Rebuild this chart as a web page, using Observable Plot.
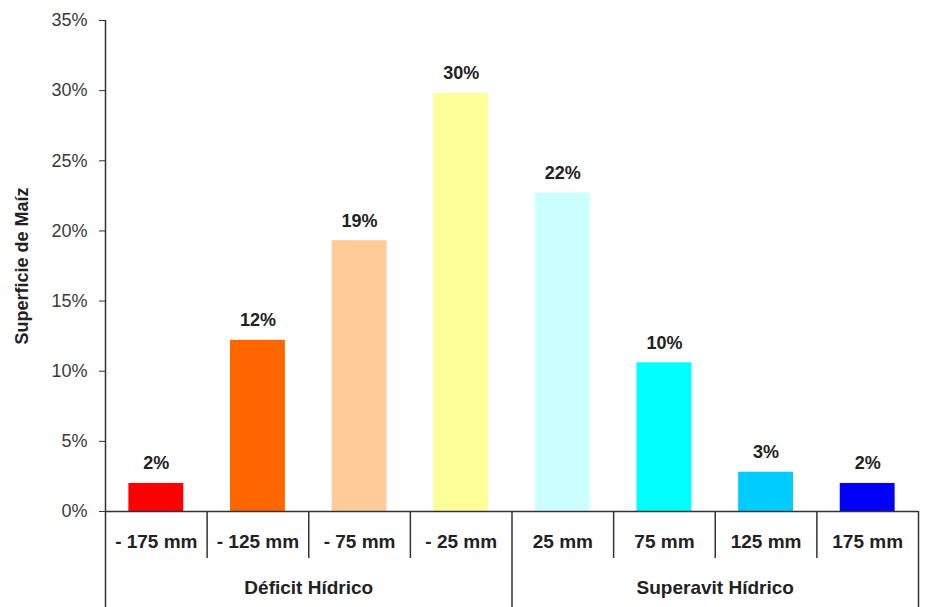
<!DOCTYPE html>
<html><head><meta charset="utf-8">
<script src="https://cdn.jsdelivr.net/npm/d3@7"></script>
<script src="https://cdn.jsdelivr.net/npm/@observablehq/plot@0.6"></script>
<style>body{margin:0;background:#fff} svg{display:block}</style>
</head><body><div id="chart"></div>
<script>
const categories = ["- 175 mm","- 125 mm","- 75 mm","- 25 mm","25 mm","75 mm","125 mm","175 mm"];
const values = [2.0, 12.2, 19.3, 29.8, 22.7, 10.6, 2.8, 2.0];
const valueLabels = ["2%","12%","19%","30%","22%","10%","3%","2%"];
const groupOf = ["Déficit Hídrico","Déficit Hídrico","Déficit Hídrico","Déficit Hídrico","Superavit Hídrico","Superavit Hídrico","Superavit Hídrico","Superavit Hídrico"];
const groups = ["Déficit Hídrico","Superavit Hídrico"];
const colors = ["#ff0000","#ff6600","#ffcc99","#ffff99","#ccffff","#00ffff","#00ccff","#0000ff"];
const yTicks = [0,5,10,15,20,25,30,35];
const yTitle = "Superficie de Maíz";

const W = 929, H = 607, ML = 105, MR = 11, MT = 20, MB = 96;
const step = (W - ML - MR) / categories.length;
const font = "Liberation Sans, Arial, sans-serif";

const data = categories.map((c, i) => ({cat: c, value: values[i], label: valueLabels[i], group: groupOf[i], color: colors[i]}));

const firstOfGroup = groups.map(g => categories[groupOf.indexOf(g)]);
const lastCat = categories[categories.length - 1];
const innerDividers = categories.filter((c, i) => i > 0 && groupOf[i] === groupOf[i - 1]);
const groupCenters = groups.map(g => {
  const cs = categories.filter((c, i) => groupOf[i] === g);
  return {group: g, cat: cs[Math.floor(cs.length / 2)]};
});

const plot = Plot.plot({
  width: W, height: H,
  marginLeft: ML, marginRight: MR, marginTop: MT, marginBottom: MB,
  style: {fontFamily: font, background: "#fff", color: "#333"},
  x: {domain: categories, paddingInner: 0.46, paddingOuter: 0.23, round: false, axis: null},
  y: {domain: [0, 35], axis: null},
  color: {type: "identity"},
  marks: [
    Plot.barY(data, {x: "cat", y: "value", fill: "color"}),
    Plot.ruleY([0], {stroke: "#333", strokeWidth: 1.5}),
    Plot.axisY({ticks: yTicks, tickFormat: d => d + "%", tickSize: 6, tickPadding: 12, fontSize: 18, label: null, stroke: "#333", fill: "#3a3a3a"}),
    Plot.ruleX([categories[0]], {x: d => d, dx: -step / 2, stroke: "#333", strokeWidth: 1.5, insetBottom: -MB}),
    Plot.ruleX(firstOfGroup.slice(1), {x: d => d, dx: -step / 2, stroke: "#333", strokeWidth: 1.5, insetTop: H - MT - MB, insetBottom: -MB}),
    Plot.ruleX([lastCat], {x: d => d, dx: step / 2, stroke: "#333", strokeWidth: 1.5, insetTop: H - MT - MB, insetBottom: -MB}),
    Plot.ruleX(innerDividers, {x: d => d, dx: -step / 2, stroke: "#333", strokeWidth: 1.5, insetTop: H - MT - MB, insetBottom: -47}),
    Plot.text(data, {x: "cat", y: "value", text: "label", dy: -20, fontSize: 18, fontWeight: "bold", fill: "#222"}),
    Plot.text(data, {x: "cat", text: "cat", frameAnchor: "bottom", dy: 36, fontSize: 19, fontWeight: "bold", fill: "#222"}),
    Plot.text(groupCenters, {x: "cat", text: "group", frameAnchor: "bottom", dx: -step / 2, dy: 82, fontSize: 19, fontWeight: "bold", fill: "#222"}),
    Plot.text([yTitle], {frameAnchor: "left", textAnchor: "middle", dx: -83, rotate: -90, fontSize: 18, fontWeight: "bold", fill: "#222"})
  ]
});
document.getElementById("chart").appendChild(plot);
</script>
</body></html>
